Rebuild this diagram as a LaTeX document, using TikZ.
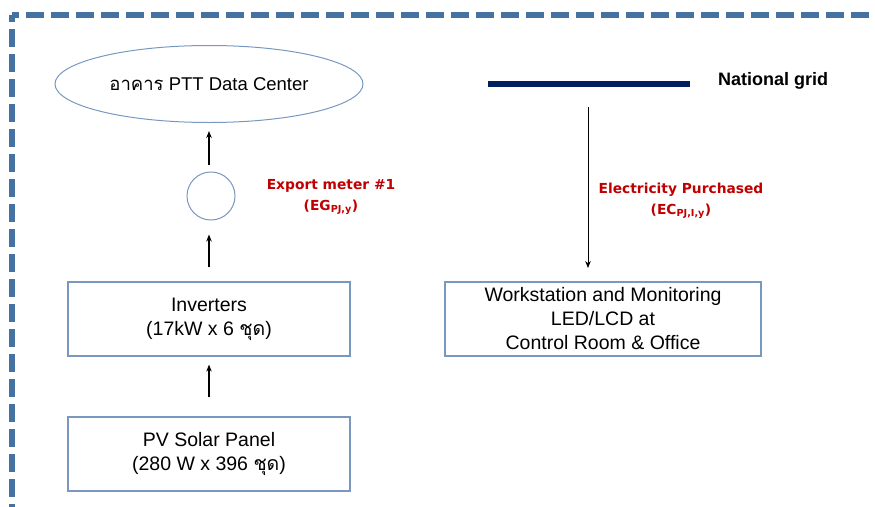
\documentclass[tikz,border=0pt]{standalone}
\usepackage{fontspec}
\setmainfont{Liberation Sans}
\newfontfamily\thaifont[Script=Thai]{Loma}
\newfontfamily\labelfont{DejaVu Sans}
\usetikzlibrary{shapes.geometric}
\usetikzlibrary{arrows.meta}
\definecolor{frameblue}{RGB}{70,114,162}
\definecolor{edgeblue}{RGB}{120,152,192}
\definecolor{gridnavy}{RGB}{0,32,96}
\definecolor{meterred}{RGB}{192,0,0}

\begin{document}
\begin{tikzpicture}[x=1pt,y=-1pt,
	panelbox/.style={draw=edgeblue, line width=1.2pt, minimum width=282pt, minimum height=74pt,
		inner sep=0pt, align=center, font=\fontsize{19.5}{24}\selectfont},
	bldg/.style={ellipse, draw=edgeblue, line width=1pt, minimum width=308pt, minimum height=77pt,
		inner sep=0pt, font=\fontsize{18.5}{22}\selectfont},
	meter/.style={circle, draw=edgeblue, line width=1pt, minimum size=48pt, inner sep=0pt},
	redlabel/.style={text=meterred, align=center, font=\labelfont\bfseries\fontsize{13.8}{21}\selectfont},
	frame/.style={frameblue, line width=6pt, dash pattern=on 18pt off 7pt, dash phase=11pt},
	flow/.style={-{Stealth[length=7pt,width=5.5pt]}, line width=1.4pt}]

	\useasboundingbox (0,0) rectangle (875,506);

	% dashed frame, corner at top left
	\coordinate (fc) at (12,15);
	\draw[frame] (fc) -- (885,15);
	\draw[frame] (fc) -- (12,515);

	% left branch: panels -> inverters -> meter -> building
	\node[bldg] (dc) at (209,84) {{\thaifont อาคาร} PTT Data Center};
	\node[meter] (m1) at (211,196) {};
	\node[panelbox] (inv) at (209,319) {Inverters\\(17kW x 6 {\thaifont ชุด})};
	\node[panelbox] (pv) at (209,454) {PV Solar Panel\\(280 W x 396 {\thaifont ชุด})};

	\draw[flow, shorten <=19pt, shorten >=8pt] (pv) -- (inv);
	\draw[flow, shorten <=14pt, shorten >=14pt] (inv) -- (inv |- m1.south);
	\draw[flow, shorten <=7pt, shorten >=8pt] (dc |- m1.north) -- (dc);

	\node[redlabel] (eg) at (331,197) {Export meter \#1\\(EG\textsubscript{PJ,y})};

	% right branch: grid -> workstation
	\coordinate (g1) at (488,84);
	\coordinate (g2) at (690,84);
	\coordinate (tap) at (588,84);
	\draw[gridnavy, line width=6pt] (g1) -- (g2);
	\node[font=\bfseries\fontsize{18}{22}\selectfont] (ng) at (773,81) {National grid};

	\node[panelbox, minimum width=316pt] (ws) at (603,319)
		{Workstation and Monitoring\\LED/LCD at\\Control Room \& Office};
	\coordinate (wsin) at (588,282);
	\draw[flow, line width=0.8pt, shorten <=23pt, shorten >=14pt] (tap) -- (wsin);

	\node[redlabel] (ec) at (681,201) {Electricity Purchased\\(EC\textsubscript{PJ,I,y})};
\end{tikzpicture}
\end{document}
